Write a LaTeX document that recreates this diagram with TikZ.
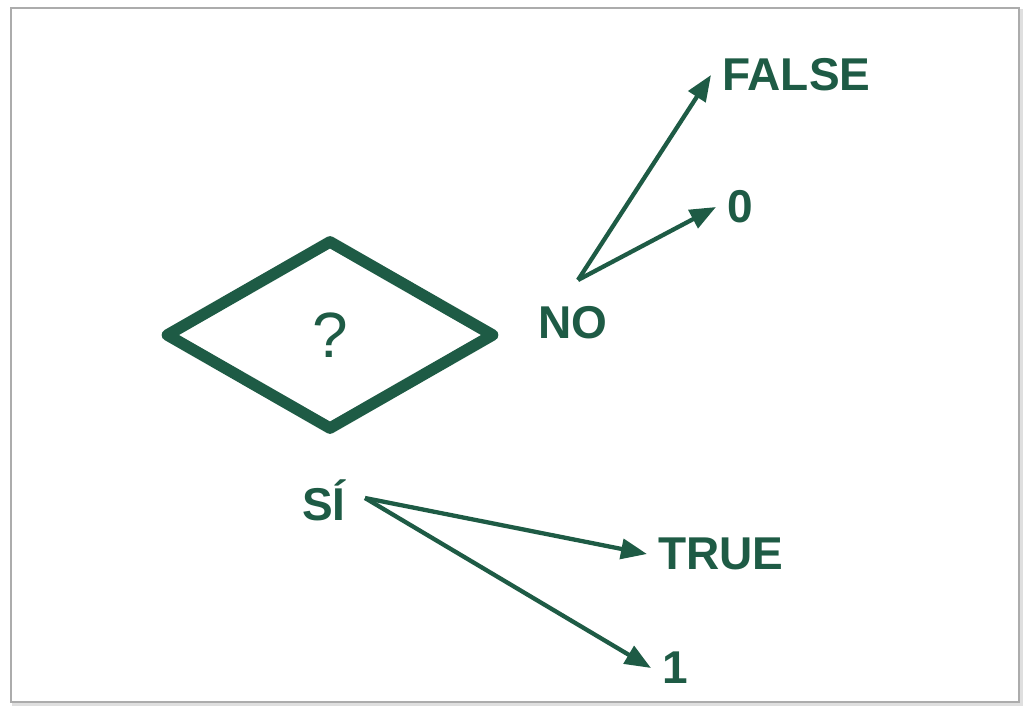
\documentclass[tikz,border=0pt]{standalone}
\usepackage{fontspec}
\setmainfont{Liberation Sans}
\usetikzlibrary{shapes.geometric,arrows.meta}
\definecolor{darkgreen}{HTML}{1E5B45}

\begin{document}
\begin{tikzpicture}[
            x=1pt, y=-1pt,
            every node/.style={text=darkgreen, font=\bfseries\fontsize{46}{46}\selectfont, inner sep=11pt},
            answer/.style={draw=darkgreen, line width=4.3pt, -{Triangle[length=26pt,width=20pt]}},
            % card/.style = {draw=gray!60, line width=1.5pt},
            ]
            \useasboundingbox (0,0) rectangle (1031,718);
            % card
            \draw[gray!25, line width=4pt] (14,11) rectangle (1021,704);
            \draw[gray!65, line width=1.5pt, fill=white] (11,8) rectangle (1019,702);
            % decision
            \node[diamond, draw=darkgreen, line width=11.5pt, line join=round, inner sep=0pt,
                minimum width=330pt, minimum height=191pt,
                font=\fontsize{64}{64}\selectfont] (q) at (330,335) {?};
            \node (no) at (573,323) {NO};
            \node (si) at (324,500) {SÍ};
            \node[anchor=west] (false) at (711,75) {FALSE};
            \node[anchor=west] (zero) at (716,207) {0};
            \node[anchor=west] (true) at (647,554) {TRUE};
            \node[anchor=west] (one) at (651,668) {1};
            \coordinate (no-tail) at (578,280);
            \coordinate (si-tail) at (365,498);
            \draw[answer] (no-tail) -- (false.west);
            \draw[answer] (no-tail) -- (zero.west);
            \draw[answer] (si-tail) -- (true.west);
            \draw[answer] (si-tail) -- (one.west);
        \end{tikzpicture}
\end{document}
